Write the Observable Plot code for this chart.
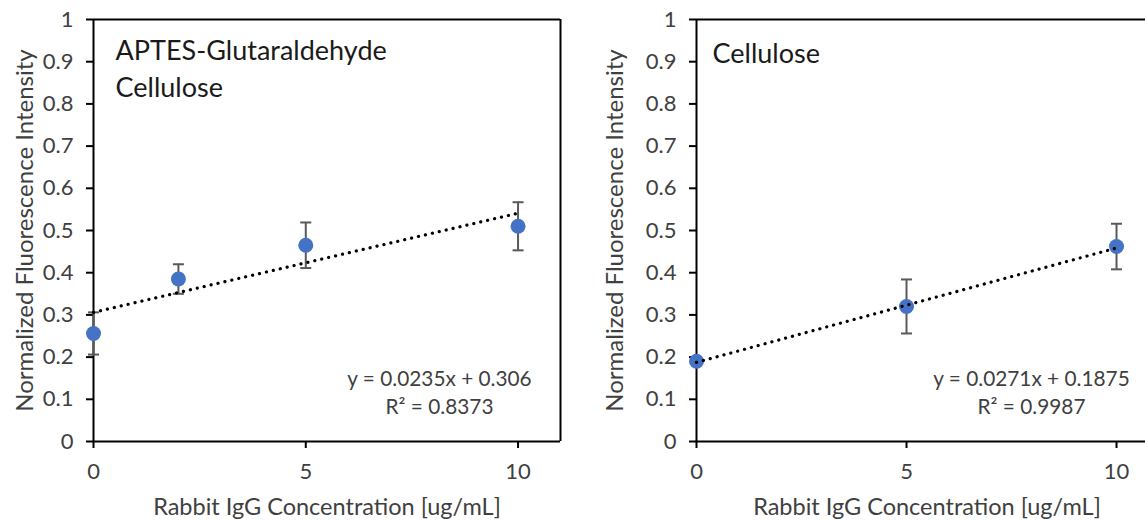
<!DOCTYPE html>
<html>
<head>
<meta charset="utf-8">
<script src="https://cdn.jsdelivr.net/npm/d3@7"></script>
<script src="https://cdn.jsdelivr.net/npm/@observablehq/plot@0.6"></script>
<style>
  html, body { margin: 0; padding: 0; background: #fff; overflow: hidden; }
  #wrap { position: relative; width: 1145px; height: 521px; }
  #left, #right { position: absolute; top: 0; }
  #left { left: 0; }
  #right { left: 600px; }
</style>
</head>
<body>
<div id="wrap"><div id="left"></div><div id="right"></div></div>
<script>
// ---- data ----
const xTicks = [0, 5, 10];
const xTickLabels = ["0", "5", "10"];
const yTicks = [0, 0.1, 0.2, 0.3, 0.4, 0.5, 0.6, 0.7, 0.8, 0.9, 1];
const yTickLabels = ["0", "0.1", "0.2", "0.3", "0.4", "0.5", "0.6", "0.7", "0.8", "0.9", "1"];

const xLabel = "Rabbit IgG Concentration [ug/mL]";
const yLabel = "Normalized Fluorescence Intensity";

const leftTitle = "APTES-Glutaraldehyde\nCellulose";
const leftConc = [0, 2, 5, 10];
const leftMean = [0.256, 0.385, 0.465, 0.510];
const leftErr = [0.050, 0.035, 0.054, 0.057];
const leftSlope = 0.0235;
const leftIntercept = 0.306;
const leftEquation = "y = 0.0235x + 0.306\nR² = 0.8373";

const rightTitle = "Cellulose";
const rightConc = [0, 5, 10];
const rightMean = [0.190, 0.320, 0.462];
const rightErr = [0.008, 0.064, 0.054];
const rightSlope = 0.0271;
const rightIntercept = 0.1875;
const rightEquation = "y = 0.0271x + 0.1875\nR² = 0.9987";

const trendX = [0, 10];

// ---- helpers ----
const rowsOf = (xs, ys, es) => xs.map((x, i) => ({x, y: ys[i], lo: ys[i] - es[i], hi: ys[i] + es[i]}));
const trendOf = (m, b) => trendX.map(x => ({x, y: m * x + b}));
const cap = {draw(ctx, size) { const w = Math.sqrt(size / Math.PI); ctx.moveTo(-w, 0); ctx.lineTo(w, 0); }};

const TEXT = "#404040";
const BAR = "#595959";
const BLUE = "#4472C4";

function panel({width, marginLeft, marginRight, xMax, rows, trend, title, titleDx, titleDy, eq, eqDx, yLabelDx, xLabelDx, fullFrame}) {
  const frameRulesX = fullFrame ? [0, xMax] : [0];
  return Plot.plot({
    width, height: 521,
    marginLeft, marginRight, marginTop: 19, marginBottom: 80,
    style: {fontFamily: "Lato, 'Open Sans', sans-serif", fontSize: "22px", color: TEXT, background: "#fff", overflow: "visible"},
    x: {domain: [0, xMax]},
    y: {domain: [0, 1]},
    marks: [
      Plot.axisY({ticks: yTicks, tickFormat: (d, i) => yTickLabels[i], tickSize: 7, tickPadding: 13, strokeWidth: 2, stroke: "#000", label: null, fill: TEXT}),
      Plot.axisX({ticks: xTicks, tickFormat: (d, i) => xTickLabels[i], tickSize: 7, tickPadding: 15, strokeWidth: 2, stroke: "#000", label: null, fill: TEXT}),
      Plot.ruleY([0, 1], {stroke: "#000", strokeWidth: 2}),
      Plot.ruleX(frameRulesX, {stroke: "#000", strokeWidth: 2}),
      // error bars
      Plot.ruleX(rows, {x: "x", y1: "lo", y2: "hi", stroke: BAR, strokeWidth: 2}),
      Plot.dot(rows, {x: "x", y: "lo", symbol: cap, r: 5.5, stroke: BAR, strokeWidth: 2, fill: "none"}),
      Plot.dot(rows, {x: "x", y: "hi", symbol: cap, r: 5.5, stroke: BAR, strokeWidth: 2, fill: "none"}),
      // points
      Plot.dot(rows, {x: "x", y: "y", r: 7.5, fill: BLUE, stroke: "none"}),
      // trendline
      Plot.line(trend, {x: "x", y: "y", stroke: "#000", strokeWidth: 3.2, strokeDasharray: "0.1 7", strokeLinecap: "round"}),
      // panel title
      Plot.text([title], {text: d => d, frameAnchor: "top-left", textAnchor: "start", lineAnchor: "top", dx: titleDx, dy: titleDy, fontSize: 27, lineHeight: 37 / 27, fill: "#1a1a1a"}),
      // equation
      Plot.text([eq], {text: d => d, frameAnchor: "bottom-right", textAnchor: "middle", lineAnchor: "bottom", dx: eqDx, dy: -28, fontSize: 20.8, lineHeight: 28 / 20.8, fill: TEXT}),
      // axis titles
      Plot.text([yLabel], {text: d => d, frameAnchor: "left", rotate: -90, textAnchor: "middle", lineAnchor: "middle", dx: yLabelDx, fontSize: 24, fill: TEXT}),
      Plot.text([xLabel], {text: d => d, frameAnchor: "bottom", textAnchor: "middle", lineAnchor: "bottom", dx: xLabelDx, dy: 73, fontSize: 23.5, fill: TEXT})
    ]
  });
}

document.getElementById("left").append(panel({
  width: 572, marginLeft: 93, marginRight: 12, xMax: 11,
  rows: rowsOf(leftConc, leftMean, leftErr), trend: trendOf(leftSlope, leftIntercept),
  title: leftTitle, titleDx: 22, titleDy: 14.7, eq: leftEquation, eqDx: -121,
  yLabelDx: -68, xLabelDx: 0, fullFrame: true
}));

document.getElementById("right").append(panel({
  width: 545, marginLeft: 96, marginRight: 0, xMax: 10.69,
  rows: rowsOf(rightConc, rightMean, rightErr), trend: trendOf(rightSlope, rightIntercept),
  title: rightTitle, titleDx: 16, titleDy: 17, eq: rightEquation, eqDx: -114,
  yLabelDx: -81, xLabelDx: 6, fullFrame: false
}));
</script>
</body>
</html>
